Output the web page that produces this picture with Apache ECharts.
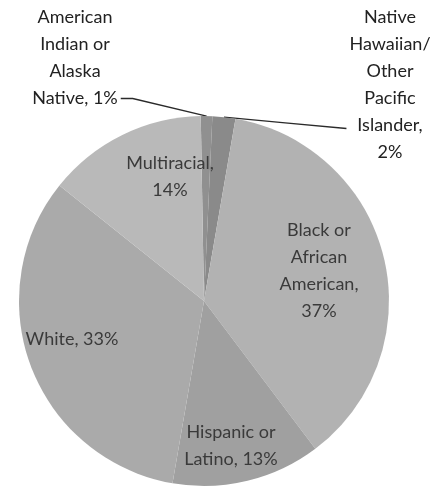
<!DOCTYPE html>
<html>
<head>
<meta charset="utf-8">
<style>
  html, body { margin: 0; padding: 0; background: #ffffff; }
  #chart { width: 430px; height: 490px; }
</style>
<script src="https://cdn.jsdelivr.net/npm/echarts@6/dist/echarts.min.js"></script>
</head>
<body>
<div id="chart"></div>
<script>
// Student enrollment by race/ethnicity (percent of total)
const categories = [
  'American Indian or Alaska Native',
  'Native Hawaiian/Other Pacific Islander',
  'Black or African American',
  'Hispanic or Latino',
  'White',
  'Multiracial'
];
// Wrapped label text for each category (same order)
const labelNames = [
  'American\nIndian or\nAlaska\nNative',
  'Native\nHawaiian/\nOther\nPacific\nIslander,\n',
  'Black or\nAfrican\nAmerican,\n',
  'Hispanic or\nLatino',
  'White',
  'Multiracial,\n'
];
const shares = [1, 2, 37, 13, 33, 14];

const sliceColors = ['#909090', '#8a8a8a', '#b2b2b2', '#a0a0a0', '#aaaaaa', '#b9b9b9'];
const outsideLabel = [true, true, false, false, false, false];
// label block centres
const labelSpots = [
  [75, 58], [390, 85], [319, 271], [231, 446], [72, 339], [170, 177]
];
const LINE_H = 27;

const chart = echarts.init(document.getElementById('chart'), null, { renderer: 'canvas' });

const data = categories.map((name, i) => ({
  name: name,
  value: shares[i],
  itemStyle: { color: sliceColors[i] },
  label: {
    position: outsideLabel[i] ? 'outside' : 'inside',
    color: outsideLabel[i] ? '#222222' : '#3a3a3a'
  },
  labelLine: { show: outsideLabel[i] }
}));

// Leader line: from the slice's rim to the side of the label's text line
function leader(p, s) {
  const start = p.labelLinePoints ? p.labelLinePoints[0] : null;
  if (!start) return undefined;
  const w = p.labelRect.width, h = p.labelRect.height;
  if (p.dataIndex === 0) {
    // ends beside the last line, on the right
    const end = [s[0] + w / 2 + 3, s[1] + h / 2 - LINE_H / 2];
    return [start, [end[0] + 12, end[1]], end];
  }
  // ends beside the second-to-last line, on the left
  const end = [s[0] - w / 2 - 3, s[1] + h / 2 - LINE_H * 1.5 + 3];
  return [start, [(start[0] + end[0]) / 2, (start[1] + end[1]) / 2], end];
}

chart.setOption({
  backgroundColor: '#ffffff',
  animation: false,
  series: [{
    type: 'pie',
    center: [204, 301],
    radius: [0, 185],
    startAngle: 91,
    clockwise: true,
    avoidLabelOverlap: false,
    silent: true,
    emphasis: { disabled: true },
    itemStyle: { borderWidth: 0 },
    label: {
      show: true,
      fontFamily: 'Lato',
      fontSize: 18,
      lineHeight: LINE_H,
      align: 'center',
      formatter: (p) => {
        const t = labelNames[p.dataIndex];
        const sep = t.endsWith('\n') ? '' : ', ';
        return t + sep + p.value + '%';
      }
    },
    labelLine: {
      show: true,
      length: 10,
      length2: 10,
      lineStyle: { color: '#2a2a2a', width: 1.3 }
    },
    labelLayout: (p) => {
      const s = labelSpots[p.dataIndex];
      const out = { x: s[0], y: s[1], align: 'center', verticalAlign: 'middle' };
      if (outsideLabel[p.dataIndex]) {
        const pts = leader(p, s);
        if (pts) out.labelLinePoints = pts;
      }
      return out;
    },
    data: data
  }]
});
</script>
</body>
</html>
